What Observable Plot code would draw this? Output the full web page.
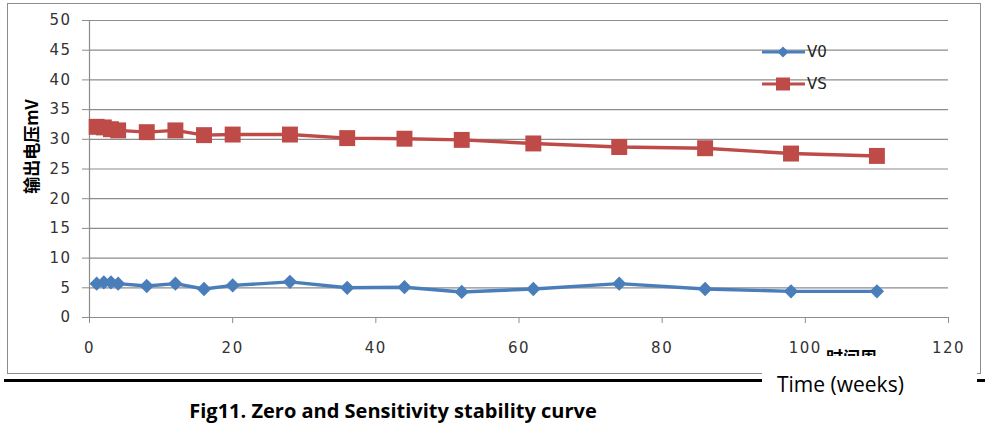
<!DOCTYPE html>
<html>
<head>
<meta charset="utf-8">
<script src="https://cdn.jsdelivr.net/npm/d3@7"></script>
<script src="https://cdn.jsdelivr.net/npm/@observablehq/plot@0.6"></script>
<style>
  html, body { margin: 0; padding: 0; background: #fff; }
  #wrap { position: relative; width: 998px; height: 430px; overflow: hidden; background: #fff; }
  #chart { position: absolute; left: 0; top: 0; }
  .abs { position: absolute; }
</style>
</head>
<body>
<div id="wrap">
  <div class="abs" style="left:7px;top:3px;width:972px;height:369px;border:1.5px solid #8c8c8c;"></div>
  <div id="chart"></div>
  <div class="abs" style="left:8px;top:95px;width:44px;height:102px;display:flex;align-items:center;justify-content:center;">
    <div style="transform:rotate(-90deg);white-space:nowrap;font-family:'Noto Sans CJK SC';font-weight:bold;font-size:17px;color:#000;">输出电压mV</div>
  </div>
  <div class="abs" style="left:826px;top:347px;font-family:'Noto Sans CJK SC';font-weight:bold;font-size:17px;line-height:20px;color:#000;">时间周</div>
  <div class="abs" style="left:4px;top:378.5px;width:981px;height:3px;background:#000;"></div>
  <div class="abs" style="left:762px;top:356px;width:215px;height:48px;background:#fff;"></div>
  <div class="abs" style="left:777px;top:370px;font-family:'Open Sans';font-size:21px;line-height:28px;color:#000;">Time (weeks)</div>
  <div id="legend" class="abs" style="left:760px;top:40px;"></div>
  <div class="abs" style="left:0;top:397px;width:786px;text-align:center;font-family:'Open Sans';font-weight:bold;font-size:20px;line-height:28px;color:#000;">Fig11. Zero and Sensitivity stability curve</div>
</div>
<script>
const weeks = [1, 2, 3, 4, 8, 12, 16, 20, 28, 36, 44, 52, 62, 74, 86, 98, 110];
const v0 = [5.7, 5.9, 5.9, 5.7, 5.3, 5.7, 4.8, 5.4, 6.0, 5.0, 5.1, 4.3, 4.8, 5.7, 4.8, 4.4, 4.4];
const vs = [32.1, 32.0, 31.7, 31.5, 31.2, 31.5, 30.7, 30.8, 30.8, 30.2, 30.1, 29.9, 29.3, 28.7, 28.5, 27.6, 27.2];
const xTicks = [0, 20, 40, 60, 80, 100, 120];
const yTicks = [0, 5, 10, 15, 20, 25, 30, 35, 40, 45, 50];
const seriesNames = ["V0", "VS"];
const seriesColors = ["#4a7ebb", "#be4b48"];

const rows0 = weeks.map((w, i) => ({week: w, value: v0[i]}));
const rowsS = weeks.map((w, i) => ({week: w, value: vs[i]}));

const plot = Plot.plot({
  width: 998,
  height: 380,
  marginLeft: 89,
  marginRight: 50,
  marginTop: 20,
  marginBottom: 63,
  style: {fontFamily: "DejaVu Sans", fontSize: "15px", letterSpacing: "1.5px", color: "#333", background: "transparent"},
  x: {domain: [0, 120]},
  y: {domain: [0, 50]},
  marks: [
    Plot.gridY(yTicks, {stroke: "#8c8c8c", strokeOpacity: 1, strokeWidth: 1.2}),
    Plot.ruleX([0], {stroke: "#8c8c8c", strokeWidth: 1.2}),
    Plot.ruleY([0], {stroke: "#8c8c8c", strokeWidth: 1.2}),
    Plot.axisY(yTicks, {tickSize: 7, tickPadding: 11, stroke: "#8c8c8c", label: null, fill: "#333"}),
    Plot.axisX(xTicks, {tickSize: 6, tickPadding: 19, stroke: "#8c8c8c", label: null, fill: "#333"}),
    Plot.line(rows0, {x: "week", y: "value", stroke: seriesColors[0], strokeWidth: 3.4}),
    Plot.line(rowsS, {x: "week", y: "value", stroke: seriesColors[1], strokeWidth: 3.4}),
    Plot.dot(rows0, {x: "week", y: "value", symbol: "diamond2", r: 5.5, fill: seriesColors[0], stroke: seriesColors[0]}),
    Plot.dot(rowsS, {x: "week", y: "value", symbol: "square", r: 9, fill: seriesColors[1], stroke: "none"})
  ]
});
document.getElementById("chart").appendChild(plot);

// legend
const lg = d3.select("#legend").append("svg").attr("width", 90).attr("height", 60);
seriesNames.forEach((name, i) => {
  const g = lg.append("g").attr("transform", `translate(0,${12 + i * 32})`);
  g.append("line").attr("x1", 2).attr("x2", 45).attr("y1", 0).attr("y2", 0)
    .attr("stroke", seriesColors[i]).attr("stroke-width", 3);
  if (i === 0) {
    g.append("path").attr("d", d3.symbol(d3.symbolDiamond2, 80)()).attr("transform", "translate(23,0)").attr("fill", seriesColors[i]);
  } else {
    g.append("rect").attr("x", 16).attr("y", -6.5).attr("width", 14).attr("height", 13).attr("fill", seriesColors[i]);
  }
  g.append("text").attr("x", 47).attr("y", 5).text(name)
    .attr("font-family", "DejaVu Sans").attr("font-size", 15).attr("fill", "#222");
});
</script>
</body>
</html>
